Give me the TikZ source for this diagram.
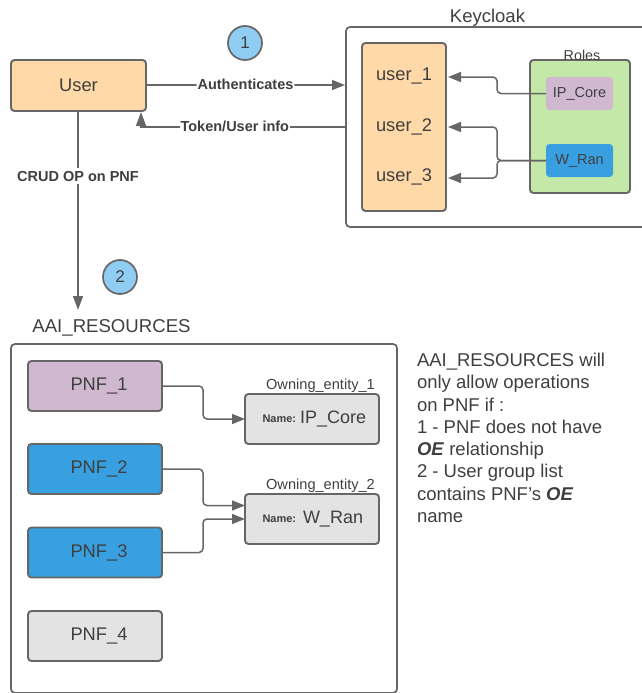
\documentclass[tikz,border=0pt]{standalone}
\usepackage{fontspec}
\setmainfont{Liberation Sans}
\usetikzlibrary{arrows.meta,calc}
\definecolor{ln}{HTML}{666666}
\definecolor{tx}{HTML}{3F3F3F}
\definecolor{orangef}{HTML}{FFD9A8}
\definecolor{purplef}{HTML}{CFB8D0}
\definecolor{bluef}{HTML}{38A0E0}
\definecolor{greenf}{HTML}{C4E8A8}
\definecolor{grayf}{HTML}{E3E3E3}
\definecolor{circf}{HTML}{90CDF2}
\newcommand{\fsz}[1]{\fontsize{#1}{#1}\selectfont}
\newcommand{\pnftext}[1]{\hspace*{8pt}\raisebox{1pt}{#1}}
\tikzset{
 x=1pt,y=-1pt,
 every node/.style={text=tx,inner sep=0pt,outer sep=0pt},
 boxn/.style={draw=ln,line width=1.9pt,rounded corners=3.5pt,minimum width=#1,anchor=center},
 bigbox/.style={boxn=134pt,minimum height=50pt,font=\fsz{18.3}},
 frameb/.style={draw=ln,line width=1.7pt,rounded corners=4pt},
 rolebox/.style={rounded corners=3.5pt,minimum width=67pt,minimum height=33pt,font=\fsz{14.5}},
 uname/.style={font=\fsz{18.3}},
 captxt/.style={font=\fsz{14.6}},
 stepcircle/.style={circle,draw=ln,line width=1.7pt,fill=circf,minimum size=34pt,font=\fsz{17}},
 conn/.style={draw=ln,line width=1.5pt,rounded corners=4pt,-{Triangle[length=13pt,width=10pt]}},
 lab/.style={fill=white,font=\fsz{14.5}\bfseries,inner xsep=1pt,inner ysep=3pt},
}
\begin{document}
\begin{tikzpicture}
\useasboundingbox (0,0) rectangle (641,693);
% frames
\node[frameb,minimum width=300pt,minimum height=200pt] (kc) at (496,127) {};
\node[frameb,minimum width=386pt,minimum height=349pt] (aai) at (204,518.5) {};
\node[font=\fsz{18.5}] (kct) at (487.5,17.5) {Keycloak};
\node[font=\fsz{18.6}] (aait) at (111.5,328) {AAI\_RESOURCES};
% user
\node[bigbox,boxn=135pt,minimum height=51pt,fill=orangef] (user) at (78.5,85.5) {\raisebox{1pt}{User}};
\node[stepcircle] (c1) at (245,43) {\raisebox{1pt}{1}};
\node[stepcircle] (c2) at (120,277) {\raisebox{1pt}{2}};
% keycloak content
\node[boxn=84pt,minimum height=168pt,fill=orangef] (users) at (404,127) {};
\node[uname] (u1) at (404,76.5) {user\_1};
\node[uname] (u2) at (404,126.5) {user\_2};
\node[uname] (u3) at (404,176.5) {user\_3};
\node[boxn=100pt,minimum height=133pt,fill=greenf] (roles) at (580,126.5) {};
\node[font=\fsz{14.3}] (rolest) at (582,55.5) {Roles};
\node[rolebox,fill=purplef] (ip) at (579.5,93.5) {\raisebox{1pt}{IP\_Core}};
\node[rolebox,fill=bluef] (wr) at (579.5,160.5) {\raisebox{1pt}{W\_Ran}};
\coordinate (a1) at (448,77);
\coordinate (a2) at (448,127);
\coordinate (a3) at (448,178);
\draw[conn] (ip.west) -- (497,93.5) -- (497,77) -- (a1);
\draw[conn] (wr.west) -- (497,160.5) -- (497,127) -- (a2);
\draw[conn] (wr.west) -- (497,160.5) -- (497,178) -- (a3);
% top connectors
\coordinate (kin) at (345,85);
\coordinate (kout) at (345,127);
\coordinate (uup) at (141,112);
\coordinate (aaitop) at (78,310);
\draw[conn] (user.east |- kin) -- node[lab,pos=.5,yshift=1pt] (auth) {Authenticates} (kin);
\draw[draw=ln,line width=1.5pt,-{Triangle[length=14pt,width=10pt]}] (kout) -- node[lab,pos=.54,yshift=1pt] (tok) {Token/User info} (141,127) -- (uup);
\draw[draw=ln,line width=1.5pt,-{Triangle[length=14pt,width=10pt]}] (user.south -| aaitop) -- node[lab,pos=.328] (crud) {CRUD OP on PNF} (aaitop);
% PNFs
\node[bigbox,fill=purplef] (p1) at (95,386) {\pnftext{PNF\_1}};
\node[bigbox,fill=bluef] (p2) at (95,469) {\pnftext{PNF\_2}};
\node[bigbox,fill=bluef] (p3) at (95,552.5) {\pnftext{PNF\_3}};
\node[bigbox,fill=grayf] (p4) at (95,636) {\pnftext{PNF\_4}};
% owning entities
\node[boxn=134pt,minimum height=50pt,fill=grayf] (oe1) at (312,419) {};
\node[boxn=134pt,minimum height=50pt,fill=grayf] (oe2) at (312,519) {};
\node[anchor=west,font=\fsz{11}\bfseries] (n1) at (262.5,418.5) {Name:};
\node[anchor=west,font=\fsz{18}] (v1) at (300,418.5) {IP\_Core};
\node[anchor=west,font=\fsz{11}\bfseries] (n2) at (262.5,518.5) {Name:};
\node[anchor=west,font=\fsz{18}] (v2) at (303,519.5) {W\_Ran};
\node[captxt] (o1t) at (320.5,385.5) {Owning\_entity\_1};
\node[captxt] (o2t) at (320.5,485.5) {Owning\_entity\_2};
\draw[conn] (p1.east) -- (203,386) -- (203,419) -- (oe1.west);
\draw[conn] (p2.east) -- (203,469) -- (203,505.5) -- ([yshift=13.5pt]oe2.west);
\draw[conn] (p3.east) -- (203,552.5) -- (203,519) -- (oe2.west);
% note
\node[anchor=north west,align=left,font=\fontsize{18.5}{22.3}\selectfont] (note) at (417,353) {AAI\_RESOURCES will\\only allow operations\\on PNF if :\\1 - PNF does not have\\\textbf{\textit{OE}} relationship\\2 - User group list\\contains PNF's \textbf{\textit{OE}}\\name};
\end{tikzpicture}
\end{document}
